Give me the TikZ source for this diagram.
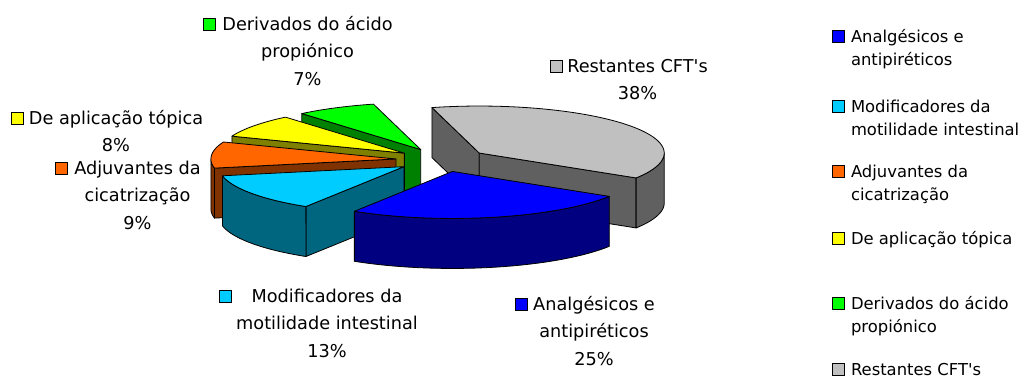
\documentclass[tikz,border=0pt]{standalone}
\usepackage{fontspec}
\setmainfont{DejaVu Sans}[Ligatures=TeXOff]
\definecolor{greytop}{HTML}{C0C0C0}
\definecolor{greyside}{HTML}{606060}
\definecolor{bluetop}{HTML}{0000FF}
\definecolor{blueside}{HTML}{000080}
\definecolor{cyantop}{HTML}{00CCFF}
\definecolor{cyanside}{HTML}{006680}
\definecolor{orangetop}{HTML}{FF6600}
\definecolor{orangeside}{HTML}{803300}
\definecolor{yellowtop}{HTML}{FFFF00}
\definecolor{yellowside}{HTML}{808000}
\definecolor{greentop}{HTML}{00FF00}
\definecolor{greenside}{HTML}{008000}
\tikzset{
  pieline/.style={draw=black, line width=0.8pt, line join=round},
  keybox/.style={draw=black, line width=0.7pt, minimum size=12pt, inner sep=0pt, outer sep=0pt},
  lbl/.style={inner sep=0pt, outer sep=0pt, font=\fontsize{17.7}{27.5}\selectfont},
  legtext/.style={inner sep=0pt, outer sep=0pt, font=\fontsize{16.4}{23.5}\selectfont}
}
\def\cx{442}\def\cy{160}\def\rx{185}\def\ry{47}\def\hh{50}\def\ex{0.25}
\newcommand\slicectr[2]{%
  \pgfmathsetmacro\sx{\cx+\ex*\rx*cos((#1+#2)/2)}%
  \pgfmathsetmacro\sy{\cy+\ex*\ry*sin((#1+#2)/2)}}
\newcommand\pwall[2]{%
  \filldraw[pieline, fill=#2] (\sx,\sy) -- ({\sx+\rx*cos(#1)},{\sy+\ry*sin(#1)})
   -- ({\sx+\rx*cos(#1)},{\sy+\ry*sin(#1)+\hh}) -- (\sx,{\sy+\hh}) -- cycle;}
\newcommand\pside[3]{%
  \filldraw[pieline, fill=#3] plot[domain=#1:#2, samples=40] ({\sx+\rx*cos(\x)},{\sy+\ry*sin(\x)})
   -- plot[domain=#2:#1, samples=40] ({\sx+\rx*cos(\x)},{\sy+\ry*sin(\x)+\hh}) -- cycle;}
\newcommand\ptop[3]{%
  \filldraw[pieline, fill=#3] (\sx,\sy) -- plot[domain=#1:#2, samples=60] ({\sx+\rx*cos(\x)},{\sy+\ry*sin(\x)}) -- cycle;}
\begin{document}
\begin{tikzpicture}[x=1pt, y=-1pt]
\fill[white] (0,0) rectangle (1021,380);
\useasboundingbox (0,0) rectangle (1021,380);
% Restantes CFT's (grey)
\slicectr{255.2}{392}
\pwall{255.2}{greyside}
\pwall{392}{greyside}
\pside{360}{392}{greyside}
\ptop{255.2}{392}{greytop}
% Derivados (green)
\slicectr{230}{255.2}
\pwall{230}{greenside}
\ptop{230}{255.2}{greentop}
% De aplicacao topica (yellow)
\slicectr{201.2}{230}
\pwall{201.2}{yellowside}
\ptop{201.2}{230}{yellowtop}
% Adjuvantes (orange)
\slicectr{168.8}{201.2}
\pwall{168.8}{orangeside}
\pside{168.8}{180}{orangeside}
\ptop{168.8}{201.2}{orangetop}
% Modificadores (cyan)
\slicectr{122}{168.8}
\pwall{122}{cyanside}
\pside{122}{168.8}{cyanside}
\ptop{122}{168.8}{cyantop}
% Analgesicos (blue)
\slicectr{32}{122}
\pside{32}{122}{blueside}
\ptop{32}{122}{bluetop}

% data labels
\node[keybox, fill=greentop, anchor=south west] (kDer) at (203,30.5) {};
\node[lbl, anchor=base] (lDer) at (307.5,30.5) {\begin{tabular}[t]{@{}c@{}}Derivados do ácido\\propiónico\\7\%\end{tabular}};
\node[keybox, fill=greytop, anchor=south west] (kRes) at (550,72) {};
\node[lbl, anchor=base] (lRes) at (637.5,72) {\begin{tabular}[t]{@{}c@{}}Restantes CFT's\\38\%\end{tabular}};
\node[keybox, fill=yellowtop, anchor=south west] (kTop) at (11,124) {};
\node[lbl, anchor=base] (lTop) at (116,124) {\begin{tabular}[t]{@{}c@{}}De aplicação tópica\\8\%\end{tabular}};
\node[keybox, fill=orangetop, anchor=south west] (kAdj) at (55,174) {};
\node[lbl, anchor=base] (lAdj) at (137.5,174) {\begin{tabular}[t]{@{}c@{}}Adjuvantes da\\cicatrização\\9\%\end{tabular}};
\node[keybox, fill=cyantop, anchor=south west] (kMod) at (219,302) {};
\node[lbl, anchor=base] (lMod) at (327,302) {\begin{tabular}[t]{@{}c@{}}Modificadores da\\motilidade intestinal\\13\%\end{tabular}};
\node[keybox, fill=bluetop, anchor=south west] (kAna) at (515,310) {};
\node[lbl, anchor=base] (lAna) at (594,310) {\begin{tabular}[t]{@{}c@{}}Analgésicos e\\antipiréticos\\25\%\end{tabular}};

% legend
\node[keybox, fill=bluetop, anchor=south west] (g1k) at (832,42) {};
\node[legtext, anchor=base west] (g1) at (851,42) {\begin{tabular}[t]{@{}l@{}}Analgésicos e\\antipiréticos\end{tabular}};
\node[keybox, fill=cyantop, anchor=south west] (g2k) at (832,112) {};
\node[legtext, anchor=base west] (g2) at (851,112) {\begin{tabular}[t]{@{}l@{}}Modificadores da\\motilidade intestinal\end{tabular}};
\node[keybox, fill=orangetop, anchor=south west] (g3k) at (832,177) {};
\node[legtext, anchor=base west] (g3) at (851,177) {\begin{tabular}[t]{@{}l@{}}Adjuvantes da\\cicatrização\end{tabular}};
\node[keybox, fill=yellowtop, anchor=south west] (g4k) at (832,244) {};
\node[legtext, anchor=base west] (g4) at (851,244) {De aplicação tópica};
\node[keybox, fill=greentop, anchor=south west] (g5k) at (832,309) {};
\node[legtext, anchor=base west] (g5) at (851,309) {\begin{tabular}[t]{@{}l@{}}Derivados do ácido\\propiónico\end{tabular}};
\node[keybox, fill=greytop, anchor=south west] (g6k) at (832,375) {};
\node[legtext, anchor=base west] (g6) at (851,375) {Restantes CFT's};
\end{tikzpicture}
\end{document}
